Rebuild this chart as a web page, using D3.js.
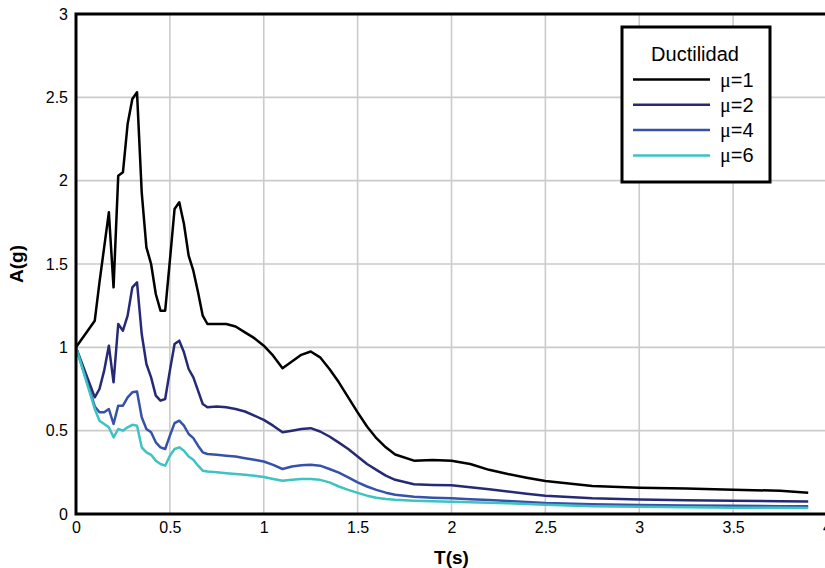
<!DOCTYPE html>
<html>
<head>
<meta charset="utf-8">
<script src="https://cdn.jsdelivr.net/npm/d3@7"></script>
<style>
  body { margin: 0; background: #fff; }
  text { font-family: "Liberation Sans", Arial, sans-serif; }
</style>
</head>
<body>
<svg id="canvas" width="825" height="568"></svg>
<script>
let periods = [0, 0.1, 0.125, 0.15, 0.175, 0.2, 0.225, 0.25, 0.275, 0.3, 0.325, 0.35, 0.375, 0.4, 0.425, 0.45, 0.475,
  0.5, 0.525, 0.55, 0.575, 0.6, 0.625, 0.65, 0.675, 0.7, 0.75, 0.8, 0.85, 0.9, 0.95, 1.0, 1.05, 1.1, 1.15, 1.2,
  1.25, 1.3, 1.35, 1.4, 1.45, 1.5, 1.55, 1.6, 1.65, 1.7, 1.8, 1.9, 2.0, 2.1, 2.2, 2.3, 2.4, 2.5, 2.75, 3.0,
  3.25, 3.5, 3.75, 3.9];

let mu1 = [1.0, 1.16, 1.39, 1.60, 1.81, 1.36, 2.03, 2.05, 2.34, 2.49, 2.53, 1.93, 1.60, 1.50, 1.32, 1.22, 1.22,
  1.52, 1.83, 1.87, 1.74, 1.55, 1.46, 1.33, 1.19, 1.14, 1.14, 1.14, 1.125, 1.09, 1.055, 1.01, 0.95, 0.875, 0.915, 0.955,
  0.975, 0.94, 0.87, 0.79, 0.70, 0.61, 0.525, 0.455, 0.40, 0.357, 0.32, 0.324, 0.32, 0.30, 0.265, 0.24, 0.218, 0.198, 0.168, 0.158,
  0.153, 0.145, 0.14, 0.128];

let mu2 = [1.0, 0.70, 0.75, 0.86, 1.01, 0.79, 1.14, 1.10, 1.19, 1.36, 1.39, 1.08, 0.90, 0.82, 0.71, 0.68, 0.69,
  0.86, 1.02, 1.04, 0.97, 0.87, 0.82, 0.74, 0.66, 0.64, 0.645, 0.64, 0.63, 0.615, 0.59, 0.565, 0.53, 0.49, 0.50, 0.51,
  0.515, 0.495, 0.465, 0.428, 0.39, 0.345, 0.30, 0.265, 0.23, 0.205, 0.178, 0.174, 0.172, 0.16, 0.148, 0.135, 0.122, 0.11, 0.094, 0.087,
  0.083, 0.08, 0.077, 0.075];

let mu4 = [1.0, 0.645, 0.61, 0.61, 0.63, 0.54, 0.65, 0.65, 0.70, 0.73, 0.735, 0.58, 0.51, 0.49, 0.43, 0.40, 0.39,
  0.47, 0.545, 0.56, 0.53, 0.48, 0.455, 0.41, 0.37, 0.36, 0.355, 0.35, 0.345, 0.335, 0.325, 0.315, 0.295, 0.27, 0.285, 0.293,
  0.295, 0.29, 0.27, 0.248, 0.22, 0.19, 0.165, 0.145, 0.128, 0.115, 0.104, 0.098, 0.094, 0.089, 0.084, 0.078, 0.072, 0.066, 0.058, 0.054,
  0.051, 0.049, 0.047, 0.046];

let mu6 = [1.0, 0.63, 0.56, 0.54, 0.52, 0.46, 0.51, 0.50, 0.52, 0.535, 0.53, 0.40, 0.37, 0.355, 0.32, 0.30, 0.29,
  0.35, 0.39, 0.40, 0.38, 0.345, 0.325, 0.29, 0.26, 0.255, 0.25, 0.245, 0.24, 0.235, 0.23, 0.222, 0.21, 0.20, 0.205, 0.21,
  0.21, 0.205, 0.19, 0.165, 0.145, 0.127, 0.11, 0.098, 0.09, 0.085, 0.08, 0.076, 0.074, 0.071, 0.068, 0.064, 0.06, 0.055, 0.047, 0.043,
  0.04, 0.038, 0.037, 0.036];

let seriesNames = ['=1', '=2', '=4', '=6'];
let seriesValues = [mu1, mu2, mu4, mu6];
let colors = ['#000000', '#262a74', '#3652a8', '#3ec2c2'];
let xTicks = [0, 0.5, 1, 1.5, 2, 2.5, 3, 3.5, 4];
let yTicks = [0, 0.5, 1, 1.5, 2, 2.5, 3];

let svg = d3.select('#canvas');
let plotLeft = 76, plotRight = 827, plotTop = 14, plotBottom = 514;

let x = d3.scaleLinear().domain([0, 4]).range([plotLeft, plotRight]);
let y = d3.scaleLinear().domain([0, 3]).range([plotBottom, plotTop]);

// grid
svg.append('g')
   .selectAll('line')
   .data(xTicks.slice(1, -1))
   .enter()
   .append('line')
   .attr('x1', d => x(d)).attr('x2', d => x(d))
   .attr('y1', plotTop).attr('y2', plotBottom)
   .attr('stroke', '#cbcbcb').attr('stroke-width', 1.6);
svg.append('g')
   .selectAll('line')
   .data(yTicks.slice(1, -1))
   .enter()
   .append('line')
   .attr('x1', plotLeft).attr('x2', plotRight)
   .attr('y1', d => y(d)).attr('y2', d => y(d))
   .attr('stroke', '#cbcbcb').attr('stroke-width', 1.6);

// axes (labels only, frame drawn below)
let xAxis = d3.axisBottom(x).tickValues(xTicks).tickSize(0).tickPadding(8).tickFormat(d3.format('~g'));
let yAxis = d3.axisLeft(y).tickValues(yTicks).tickSize(0).tickPadding(8).tickFormat(d3.format('~g'));
svg.append('g').attr('transform', 'translate(0,' + plotBottom + ')').call(xAxis)
   .call(g => g.select('.domain').remove())
   .selectAll('text').attr('font-size', 16).attr('fill', '#000')
   .style('font-family', '"Liberation Sans", Arial, sans-serif');
svg.append('g').attr('transform', 'translate(' + plotLeft + ',0)').call(yAxis)
   .call(g => g.select('.domain').remove())
   .selectAll('text').attr('font-size', 16).attr('fill', '#000')
   .style('font-family', '"Liberation Sans", Arial, sans-serif');

// curves
let line = d3.line()
   .x((d, i) => x(periods[i]))
   .y(d => y(d));
svg.append('g')
   .selectAll('path')
   .data(seriesValues)
   .enter()
   .append('path')
   .attr('d', d => line(d))
   .attr('fill', 'none')
   .attr('stroke', (d, i) => colors[i])
   .attr('stroke-width', 2.5)
   .attr('stroke-linejoin', 'round');

// frame
svg.append('rect')
   .attr('x', plotLeft).attr('y', plotTop)
   .attr('width', plotRight - plotLeft).attr('height', plotBottom - plotTop)
   .attr('fill', 'none').attr('stroke', '#000').attr('stroke-width', 3);

// axis titles
svg.append('text')
   .attr('x', x(2)).attr('y', 564)
   .attr('text-anchor', 'middle')
   .attr('font-size', 19).attr('font-weight', 'bold')
   .text('T(s)');
svg.append('text')
   .attr('transform', 'translate(23,' + ((plotTop + plotBottom) / 2) + ') rotate(-90)')
   .attr('text-anchor', 'middle')
   .attr('font-size', 19).attr('font-weight', 'bold')
   .text('A(g)');

// legend
let legend = svg.append('g');
legend.append('rect')
   .attr('x', 622).attr('y', 27)
   .attr('width', 148).attr('height', 155)
   .attr('fill', '#fff').attr('stroke', '#000').attr('stroke-width', 3);
legend.append('text')
   .attr('x', 695).attr('y', 61)
   .attr('text-anchor', 'middle')
   .attr('font-size', 20)
   .text('Ductilidad');
let rows = legend.selectAll('.legend-label')
   .data(seriesNames)
   .enter()
   .append('g')
   .attr('class', 'legend-label')
   .attr('transform', (d, i) => 'translate(0,' + (79.5 + i * 25.3) + ')');
rows.append('line')
   .attr('x1', 633).attr('x2', 710)
   .attr('stroke', (d, i) => colors[i])
   .attr('stroke-width', 2.5);
let label = rows.append('text')
   .attr('x', 720).attr('y', 7)
   .attr('font-size', 20);
label.append('tspan')
   .style('font-family', '"Liberation Serif", serif')
   .text('\u03bc');
label.append('tspan')
   .text(d => d);
</script>
</body>
</html>
